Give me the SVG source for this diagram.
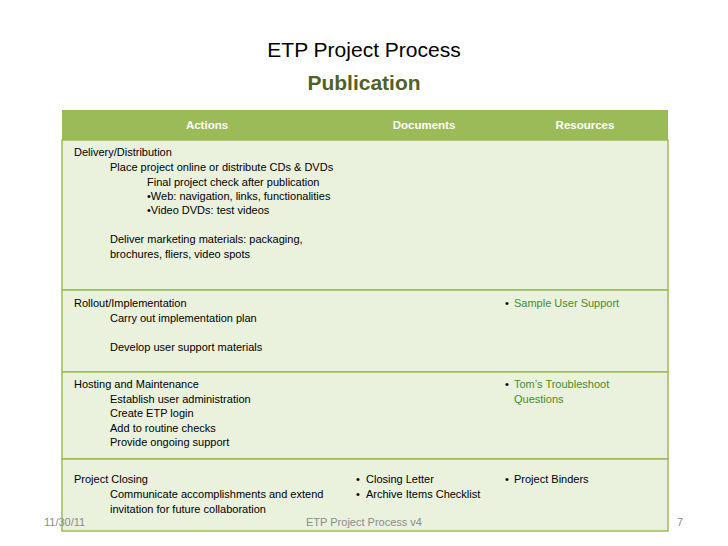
<svg xmlns="http://www.w3.org/2000/svg" width="728" height="546" viewBox="0 0 728 546">
<style>
text{font-family:"Liberation Sans",Arial,sans-serif;font-size:11px;fill:#000}
.h{fill:#fff;font-weight:bold;font-size:11.5px}
.g{fill:#3f8f2f}
.f{fill:#8c8c8c;font-size:11px}
.row{fill:#eaf1dd;stroke:#9bbb59;stroke-width:1.5}
</style>
<rect width="728" height="546" fill="#fff"/>
<g id="title">
<text x="364" y="57" text-anchor="middle" style="font-size:21px">ETP Project Process</text>
<text x="364" y="90" text-anchor="middle" style="font-size:21px;font-weight:bold;fill:#4f6228">Publication</text>
</g>
<g id="header">
<rect x="62" y="110" width="606" height="30" fill="#9bbb59"/>
<text class="h" x="207" y="129" text-anchor="middle">Actions</text>
<text class="h" x="424" y="129" text-anchor="middle">Documents</text>
<text class="h" x="585" y="129" text-anchor="middle">Resources</text>
</g>
<g id="row1">
<rect class="row" x="62" y="140" width="606" height="150"/>
<text x="74" y="156">Delivery/Distribution</text>
<text x="110" y="171">Place project online or distribute CDs &amp; DVDs</text>
<text x="147" y="186">Final project check after publication</text>
<text x="147" y="200">•Web: navigation, links, functionalities</text>
<text x="147" y="214">•Video DVDs: test videos</text>
<text x="110" y="243">Deliver marketing materials: packaging,</text>
<text x="110" y="258">brochures, fliers, video spots</text>
</g>
<g id="row2">
<rect class="row" x="62" y="290" width="606" height="82"/>
<text x="74" y="307">Rollout/Implementation</text>
<text x="110" y="322">Carry out implementation plan</text>
<text x="110" y="351">Develop user support materials</text>
<text x="505" y="307">•</text><text class="g" x="514" y="307">Sample User Support</text>
</g>
<g id="row3">
<rect class="row" x="62" y="372" width="606" height="87"/>
<text x="74" y="388">Hosting and Maintenance</text>
<text x="110" y="403">Establish user administration</text>
<text x="110" y="417">Create ETP login</text>
<text x="110" y="432">Add to routine checks</text>
<text x="110" y="446">Provide ongoing support</text>
<text x="505" y="388">•</text><text class="g" x="514" y="388">Tom’s Troubleshoot</text>
<text class="g" x="514" y="403">Questions</text>
</g>
<g id="row4">
<rect class="row" x="62" y="459" width="606" height="72"/>
<text x="74" y="483">Project Closing</text>
<text x="110" y="498">Communicate accomplishments and extend</text>
<text x="110" y="513">invitation for future collaboration</text>
<text x="356" y="483">•</text><text x="366" y="483">Closing Letter</text>
<text x="356" y="498">•</text><text x="366" y="498">Archive Items Checklist</text>
<text x="505" y="483">•</text><text x="514" y="483">Project Binders</text>
</g>
<g id="footer">
<text class="f" x="44" y="526">11/30/11</text>
<text class="f" x="364" y="526" text-anchor="middle">ETP Project Process v4</text>
<text class="f" x="680" y="526" text-anchor="middle">7</text>
</g>
</svg>
